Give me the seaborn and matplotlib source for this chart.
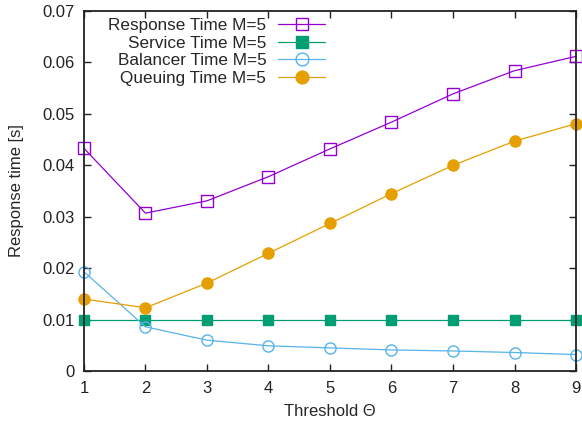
import matplotlib
matplotlib.use('Agg')
import matplotlib.pyplot as plt
import seaborn as sns
import pandas as pd

sns.set_style('white')
plt.rcParams['font.family'] = ['Liberation Sans', 'DejaVu Sans']

# data
thresholds = [1, 2, 3, 4, 5, 6, 7, 8, 9]
response_time = [0.0433, 0.0307, 0.0331, 0.0378, 0.0432, 0.0484, 0.0539, 0.0584, 0.0612]
service_time = [0.010, 0.010, 0.010, 0.010, 0.010, 0.010, 0.010, 0.010, 0.010]
balancer_time = [0.0193, 0.0086, 0.0060, 0.0049, 0.0045, 0.0041, 0.0039, 0.0036, 0.0032]
queuing_time = [0.0140, 0.0123, 0.0171, 0.0229, 0.0287, 0.0345, 0.0400, 0.0447, 0.0481]

series = [
    ('Response Time M=5', response_time, '#9400d3', 's', 'none', 8.0),
    ('Service Time M=5', service_time, '#009e73', 's', '#009e73', 7.4),
    ('Balancer Time M=5', balancer_time, '#56b4e9', 'o', 'none', 8.0),
    ('Queuing Time M=5', queuing_time, '#e69f00', 'o', '#e69f00', 8.0),
]

fig = plt.figure(figsize=(5.82, 4.25), dpi=100)
ax = fig.add_axes([0.1443, 0.127, 0.8454, 0.847])

for label, vals, color, marker, face, ms in series:
    df = pd.DataFrame({'x': thresholds, 'y': vals})
    sns.lineplot(data=df, x='x', y='y', ax=ax, color=color, label=label,
                 linewidth=0.9, marker=marker, markersize=ms,
                 markerfacecolor=face, markeredgecolor=color,
                 markeredgewidth=1.0, clip_on=False)

ax.set_xlim(1, 9)
ax.set_ylim(0, 0.07)
ax.set_xticks(thresholds)
ax.set_xticklabels([str(t) for t in thresholds])
ax.set_yticks([0, 0.01, 0.02, 0.03, 0.04, 0.05, 0.06, 0.07])
ax.set_yticklabels(['0', '0.01', '0.02', '0.03', '0.04', '0.05', '0.06', '0.07'])

ax.tick_params(direction='in', length=5, width=1, labelsize=12, colors='#222222',
               top=True, right=True, bottom=True, left=True, pad=7)
for sp in ax.spines.values():
    sp.set_color('#222222')
    sp.set_linewidth(1.3)
    sp.set_visible(True)

ax.set_xlabel('Threshold Θ', fontsize=12, labelpad=6)
ax.set_ylabel('Response time [s]', fontsize=12, labelpad=13)

ax.legend(loc='upper right', bbox_to_anchor=(0.49, 0.981), frameon=False,
          markerfirst=False, fontsize=12.3, handlelength=2.75, handletextpad=0.7,
          labelspacing=0.16, borderpad=0, borderaxespad=0, markerscale=1.15)

fig.savefig('out.png', dpi=100)
